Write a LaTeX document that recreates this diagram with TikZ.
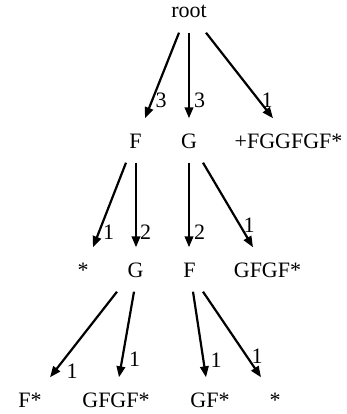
\documentclass[tikz,border=0pt]{standalone}
\usepackage{fontspec}
\setmainfont{Liberation Serif}
\usetikzlibrary{arrows.meta}
\begin{document}
\begin{tikzpicture}[x=1pt,y=-1pt,
  tn/.style={anchor=base,font=\fontsize{22}{26}\selectfont,inner sep=0pt,text height=29.5pt,text depth=14.5pt},
  lb/.style={font=\fontsize{22}{26}\selectfont,inner sep=0pt},
  edge/.style={line width=2.2pt,-{Triangle[length=11pt,width=8.5pt]}}]
\useasboundingbox (0,0) rectangle (346,414);
% nodes
\node[tn] (root) at (189,18) {root};
\node[tn] (F1) at (135.5,148) {F};
\node[tn] (G1) at (189,148) {G};
\node[tn] (P1) at (288.5,148) {+FGGFGF*};
\node[tn] (S2) at (83,277) {*};
\node[tn] (G2) at (135.5,277) {G};
\node[tn] (F2) at (189.5,277) {F};
\node[tn] (GF2) at (267.5,277) {GFGF*};
\node[tn] (F3) at (30,407) {F*};
\node[tn] (GFGF3) at (116,407) {GFGF*};
\node[tn] (GF3) at (210,407) {GF*};
\node[tn] (S3) at (275,407) {*};
% edges
\draw[edge] ([xshift=-10pt]root.south) -- ([xshift=9.5pt]F1.north);
\draw[edge] (root.south) -- (G1.north);
\draw[edge] ([xshift=17pt]root.south) -- ([xshift=-15.5pt]P1.north);
\draw[edge] ([xshift=-9.5pt]F1.south) -- ([xshift=10pt]S2.north);
\draw[edge] ([xshift=0.5pt]F1.south) -- ([xshift=0.5pt]G2.north);
\draw[edge] (G1.south) -- ([xshift=-0.5pt]F2.north);
\draw[edge] ([xshift=14pt]G1.south) -- ([xshift=-14.5pt]GF2.north);
\draw[edge] ([xshift=-18.5pt]G2.south) -- ([xshift=20pt]F3.north);
\draw[edge] ([xshift=-1.5pt]G2.south) -- ([xshift=3pt]GFGF3.north);
\draw[edge] ([xshift=3.5pt]F2.south) -- ([xshift=-4pt]GF3.north);
\draw[edge] ([xshift=13.5pt]F2.south) -- ([xshift=-14pt]S3.north);
% labels
\node[lb] (l1) at (161,100) {3};
\node[lb] (l2) at (199.5,100) {3};
\node[lb] (l3) at (267,100) {1};
\node[lb] (l4) at (108.5,232) {1};
\node[lb] (l5) at (145.5,232) {2};
\node[lb] (l6) at (199.5,232) {2};
\node[lb] (l7) at (249,225) {1};
\node[lb] (l8) at (72,371) {1};
\node[lb] (l9) at (134.5,359) {1};
\node[lb] (l10) at (216,360) {1};
\node[lb] (l11) at (257,356) {1};
\end{tikzpicture}
\end{document}
